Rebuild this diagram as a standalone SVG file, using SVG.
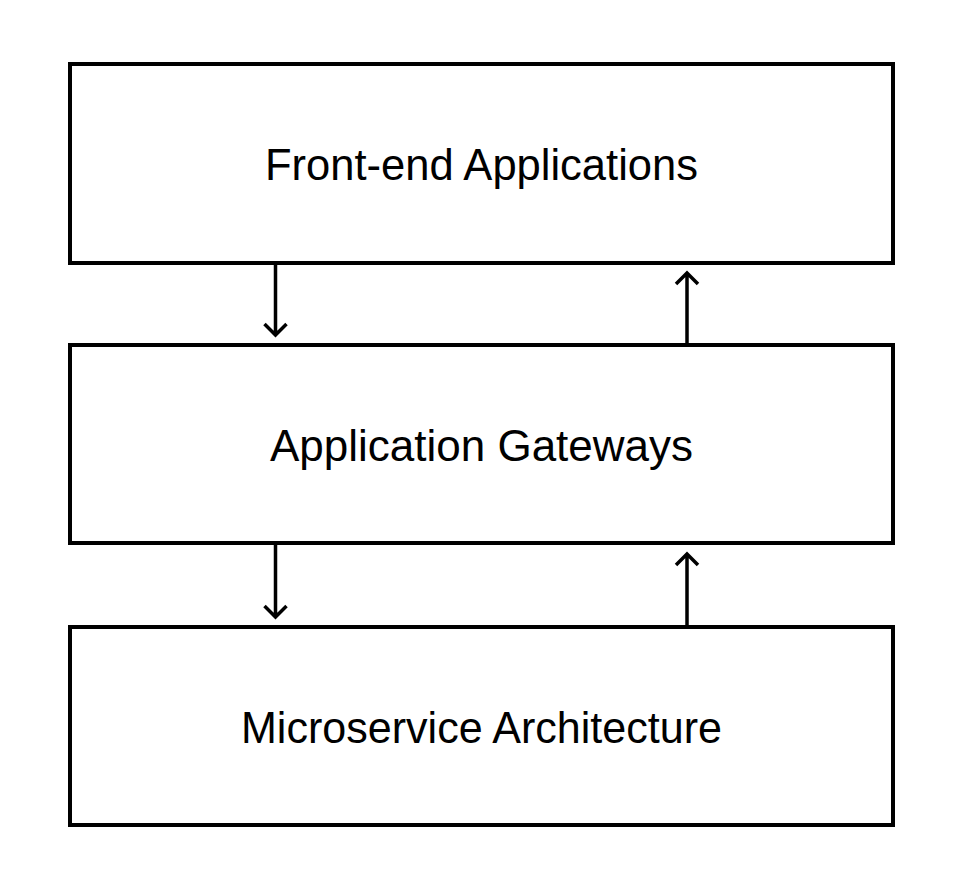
<svg xmlns="http://www.w3.org/2000/svg" width="958" height="894" viewBox="0 0 958 894">
<style>
.box{fill:#fff;stroke:#000;stroke-width:4}
.lbl{font-family:"Liberation Sans",Arial,sans-serif;font-size:44px;fill:#000;text-anchor:middle}
.con{fill:none;stroke:#000;stroke-width:3.5;stroke-linecap:butt;stroke-linejoin:miter}
</style>
<rect width="958" height="894" fill="#fff"/>
<g id="connectors">
<path class="con" d="M275.5 263V335M264.5 324L275.5 335L286.5 324"/>
<path class="con" d="M687 345V273M676 284L687 273L698 284"/>
<path class="con" d="M275.5 543V617M264.5 606L275.5 617L286.5 606"/>
<path class="con" d="M687 627V554M676 565L687 554L698 565"/>
</g>
<g id="front-end">
<rect class="box" x="70" y="64" width="823" height="199"/>
<text class="lbl" x="481.5" y="180" textLength="433" lengthAdjust="spacingAndGlyphs">Front-end Applications</text>
</g>
<g id="gateways">
<rect class="box" x="70" y="345" width="823" height="198"/>
<text class="lbl" x="481.5" y="460.5">Application Gateways</text>
</g>
<g id="microservices">
<rect class="box" x="70" y="627" width="823" height="198"/>
<text class="lbl" x="481.5" y="743" textLength="481" lengthAdjust="spacingAndGlyphs">Microservice Architecture</text>
</g>
</svg>
